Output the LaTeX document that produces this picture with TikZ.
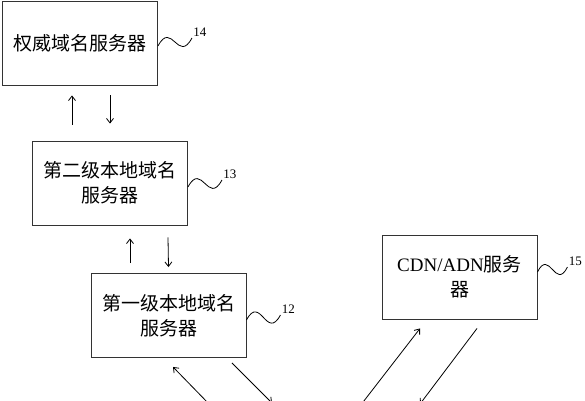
\documentclass[tikz,border=0pt]{standalone}
\usepackage{fontspec}
\setmainfont{Liberation Serif}
\newfontfamily\cjk{Noto Sans CJK SC}
\usepackage{tikz}
\usetikzlibrary{arrows.meta}
\tikzset{
  srvbox/.style={draw=black!80,line width=0.9pt,minimum width=155pt,minimum height=84pt,align=center,inner sep=2pt,font=\cjk\fontsize{19}{25}\selectfont},
  msgarrow/.style={-{Straight Barb[length=4.5pt,width=7pt]},line width=0.8pt},
  refwave/.style={line width=0.8pt},
  reflabel/.style={anchor=south west,inner sep=1pt,font=\fontsize{13}{15}\selectfont},
}

\begin{document}
\begin{tikzpicture}[x=1pt,y=-1pt]
    \useasboundingbox (0,0) rectangle (585,400);
    \clip (0,0) rectangle (585,400);
    \node[srvbox] (auth) at (80,43) {权威域名服务器};
    \node[srvbox] (local2) at (110,183) {第二级本地域名\\服务器};
    \node[srvbox] (local1) at (168.5,315.5) {第一级本地域名\\服务器};
    \node[srvbox] (cdn) at (459.5,277) {{\rmfamily CDN/ADN}服务\\器};
    % reference numerals
    \draw[refwave] ([yshift=-3pt]auth.east) .. controls +(14,-26) and +(-14,26) .. +(34,-8) node[reflabel] {14};
    \draw[refwave] ([yshift=-4pt]local2.east) .. controls +(14,-26) and +(-14,26) .. +(34,-7) node[reflabel] {13};
    \draw[refwave] ([yshift=-4.5pt]local1.east) .. controls +(14,-26) and +(-14,26) .. +(34,-5) node[reflabel] {12};
    \draw[refwave] ([yshift=5pt]cdn.east) .. controls +(12,-24) and +(-12,24) .. +(30,-5) node[reflabel] {15};
    % queries and answers
    \draw[msgarrow] ([xshift=-38pt,yshift=16pt]local2.north) -- ([xshift=-8pt,yshift=-10pt]auth.south);
    \draw[msgarrow] ([xshift=30pt,yshift=-10pt]auth.south) -- ([yshift=17pt]local2.north);
    \draw[msgarrow] ([xshift=-38.5pt,yshift=10pt]local1.north) -- ([xshift=20pt,yshift=-13pt]local2.south);
    \draw[msgarrow] ([xshift=58pt,yshift=-12pt]local2.south) -- ([yshift=6pt]local1.north);
    % lines running off the bottom edge
    \coordinate (cl1) at (211,406);
    \coordinate (cl2) at (272,403);
    \coordinate (cl3) at (360,406);
    \coordinate (cl4) at (420,404);
    \draw[msgarrow] (cl1) -- ([xshift=4.5pt,yshift=-9pt]local1.south);
    \draw[msgarrow] ([xshift=63.5pt,yshift=-5pt]local1.south) -- (cl2);
    \draw[msgarrow] (cl3) -- ([xshift=-39.5pt,yshift=-9pt]cdn.south);
    \draw[msgarrow] ([xshift=17.5pt,yshift=-9pt]cdn.south) -- (cl4);
\end{tikzpicture}
\end{document}
